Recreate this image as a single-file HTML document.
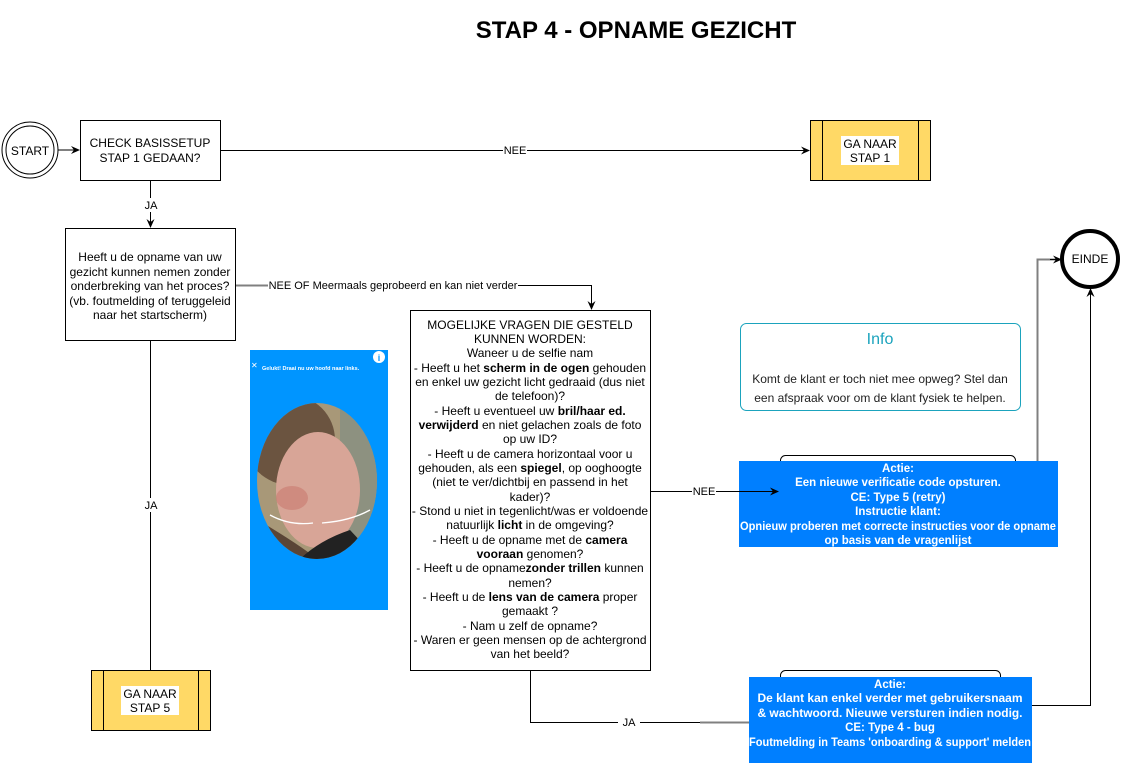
<!DOCTYPE html>
<html><head><meta charset="utf-8"><style>
html,body{margin:0;padding:0;background:#fff;}
svg{display:block;font-family:"Liberation Sans",Arial,sans-serif;}
</style></head><body>
<svg width="1123" height="763" viewBox="0 0 1123 763" xmlns="http://www.w3.org/2000/svg">
<defs>
<marker id="a" markerWidth="10" markerHeight="10" refX="8" refY="5" orient="auto" markerUnits="userSpaceOnUse"><path d="M0,1 L9,5 L0,9 L3,5 z" fill="#000"/></marker>
</defs>
<rect width="1123" height="763" fill="#fff"/>
<text x="636" y="38" text-anchor="middle" font-size="24" font-weight="bold">STAP 4 - OPNAME GEZICHT</text>

<!-- START -->
<circle cx="30" cy="150" r="28" fill="#fff" stroke="#000" stroke-width="1"/>
<circle cx="30" cy="150" r="24" fill="none" stroke="#000" stroke-width="1"/>
<text x="30" y="155" text-anchor="middle" font-size="12">START</text>
<line x1="58" y1="150" x2="79" y2="150" stroke="#000" marker-end="url(#a)"/>

<!-- Check -->
<rect x="80.5" y="120.5" width="140" height="60" fill="#fff" stroke="#000"/>
<text x="150" y="147" text-anchor="middle" font-size="12">CHECK BASISSETUP</text>
<text x="150" y="162" text-anchor="middle" font-size="12">STAP 1 GEDAAN?</text>

<line x1="221" y1="150.5" x2="809" y2="150.5" stroke="#000" marker-end="url(#a)"/>
<rect x="503" y="143" width="24" height="14" fill="#fff"/>
<text x="515" y="154" text-anchor="middle" font-size="11">NEE</text>

<!-- GA NAAR STAP 1 -->
<rect x="810.5" y="120.5" width="120" height="60" fill="#ffd966" stroke="#000"/>
<line x1="822.5" y1="120" x2="822.5" y2="181" stroke="#000"/>
<line x1="918.5" y1="120" x2="918.5" y2="181" stroke="#000"/>
<rect x="841" y="136" width="58" height="29" fill="#fff"/>
<text x="870" y="148" text-anchor="middle" font-size="12">GA NAAR</text>
<text x="870" y="162" text-anchor="middle" font-size="12">STAP 1</text>

<!-- JA down -->
<line x1="150.5" y1="181" x2="150.5" y2="227" stroke="#000" marker-end="url(#a)"/>
<rect x="140" y="198" width="22" height="14" fill="#fff"/>
<text x="151" y="209" text-anchor="middle" font-size="11">JA</text>

<!-- Question -->
<rect x="65.5" y="228.5" width="170" height="112" fill="#fff" stroke="#000"/>
<g font-size="12" text-anchor="middle">
<text x="150" y="261">Heeft u de opname van uw</text>
<text x="150" y="276">gezicht kunnen nemen zonder</text>
<text x="150" y="290">onderbreking van het proces?</text>
<text x="150" y="305">(vb. foutmelding of teruggeleid</text>
<text x="150" y="319">naar het startscherm)</text>
</g>

<!-- NEE OF -->
<polyline points="236,285.5 591.5,285.5 591.5,309" fill="none" stroke="#000" marker-end="url(#a)"/>
<line x1="236" y1="285.5" x2="268" y2="285.5" stroke="#808080" stroke-width="2"/>
<rect x="268" y="278" width="250" height="14" fill="#fff"/>
<text x="393" y="289" text-anchor="middle" font-size="11">NEE OF Meermaals geprobeerd en kan niet verder</text>

<!-- JA to STAP 5 -->
<line x1="150.5" y1="341" x2="150.5" y2="670" stroke="#000"/>
<rect x="140" y="498" width="22" height="14" fill="#fff"/>
<text x="151" y="509" text-anchor="middle" font-size="11">JA</text>

<!-- GA NAAR STAP 5 -->
<rect x="91.5" y="670.5" width="119" height="60" fill="#ffd966" stroke="#000"/>
<line x1="103.5" y1="670" x2="103.5" y2="731" stroke="#000"/>
<line x1="198.5" y1="670" x2="198.5" y2="731" stroke="#000"/>
<rect x="121" y="686" width="58" height="29" fill="#fff"/>
<text x="150" y="698" text-anchor="middle" font-size="12">GA NAAR</text>
<text x="150" y="712" text-anchor="middle" font-size="12">STAP 5</text>

<!-- phone image -->
<rect x="250" y="350" width="138" height="260" fill="#0095ff"/>
<text x="251" y="368" font-size="8" fill="#fff">✕</text>
<text x="262" y="370" font-size="5.5" fill="#fff" font-weight="bold">Gelukt! Draai nu uw hoofd naar links.</text>
<circle cx="379" cy="357" r="6" fill="#fff"/>
<text x="379" y="361" text-anchor="middle" font-size="9" font-weight="bold" fill="#0095ff">i</text>
<clipPath id="ov"><ellipse cx="317" cy="481" rx="60" ry="78"/></clipPath>
<g clip-path="url(#ov)">
<rect x="257" y="403" width="120" height="156" fill="#a89878"/>
<rect x="340" y="403" width="40" height="156" fill="#8d9180"/>
<ellipse cx="290" cy="440" rx="45" ry="45" fill="#6b5440"/>
<ellipse cx="318" cy="490" rx="42" ry="58" fill="#d8a597"/>
<ellipse cx="292" cy="498" rx="16" ry="12" fill="#c97a70" opacity="0.6"/>
<path d="M258,520 Q300,545 317,559 L258,559 z" fill="#5a4536"/>
<path d="M300,559 Q320,540 350,530 L377,559 z" fill="#222"/>
</g>
<path d="M270,515 Q290,526 313,523 M322,523 Q350,521 370,510" stroke="#fff" stroke-width="1.3" fill="none"/>

<!-- Questions box -->
<rect x="410.5" y="310.5" width="240" height="360" fill="#fff" stroke="#000"/>
<g font-size="12" text-anchor="middle">
<text x="530" y="329">MOGELIJKE VRAGEN DIE GESTELD</text>
<text x="530" y="343">KUNNEN WORDEN:</text>
<text x="530" y="357">Waneer u de selfie nam</text>
<text x="530" y="372">- Heeft u het <tspan font-weight="bold">scherm in de ogen</tspan> gehouden</text>
<text x="530" y="386">en enkel uw gezicht licht gedraaid (dus niet</text>
<text x="530" y="400">de telefoon)?</text>
<text x="530" y="415">- Heeft u eventueel uw <tspan font-weight="bold">bril/haar ed.</tspan></text>
<text x="530" y="429"><tspan font-weight="bold">verwijderd</tspan> en niet gelachen zoals de foto</text>
<text x="530" y="443">op uw ID?</text>
<text x="530" y="458">- Heeft u de camera horizontaal voor u</text>
<text x="530" y="472">gehouden, als een <tspan font-weight="bold">spiegel</tspan>, op ooghoogte</text>
<text x="530" y="486">(niet te ver/dichtbij en passend in het</text>
<text x="530" y="501">kader)?</text>
<text x="530" y="515">- Stond u niet in tegenlicht/was er voldoende</text>
<text x="530" y="529">natuurlijk <tspan font-weight="bold">licht</tspan> in de omgeving?</text>
<text x="530" y="544">- Heeft u de opname met de <tspan font-weight="bold">camera</tspan></text>
<text x="530" y="558"><tspan font-weight="bold">vooraan</tspan> genomen?</text>
<text x="530" y="572">- Heeft u de opname<tspan font-weight="bold">zonder trillen</tspan> kunnen</text>
<text x="530" y="587">nemen?</text>
<text x="530" y="601">- Heeft u de <tspan font-weight="bold">lens van de camera</tspan> proper</text>
<text x="530" y="615">gemaakt ?</text>
<text x="530" y="630">- Nam u zelf de opname?</text>
<text x="530" y="644">- Waren er geen mensen op de achtergrond</text>
<text x="530" y="658">van het beeld?</text>
</g>

<!-- JA to action 2 -->
<polyline points="530.5,671 530.5,722.5 749,722.5" fill="none" stroke="#000"/>
<line x1="700" y1="722.5" x2="749" y2="722.5" stroke="#808080" stroke-width="2"/>
<rect x="618" y="715" width="22" height="14" fill="#fff"/>
<text x="629" y="726" text-anchor="middle" font-size="11">JA</text>

<!-- Info -->
<rect x="740.5" y="323.5" width="280" height="87" rx="6" fill="#fff" stroke="#1ba3bd"/>
<text x="880" y="344" text-anchor="middle" font-size="16" fill="#1ba3bd">Info</text>
<text x="880" y="383" text-anchor="middle" font-size="12" fill="#222">Komt de klant er toch niet mee opweg? Stel dan</text>
<text x="880" y="402" text-anchor="middle" font-size="12" fill="#222">een afspraak voor om de klant fysiek te helpen.</text>

<!-- Action 1 -->
<rect x="780.5" y="455.5" width="235" height="20" rx="5" fill="#fff" stroke="#000"/>
<rect x="739" y="461" width="319" height="86" fill="#007fff"/>
<g font-size="11.5" text-anchor="middle" fill="#fff" font-weight="bold">
<text x="898" y="472">Actie:</text>
<text x="898" y="486">Een nieuwe verificatie code opsturen.</text>
<text x="898" y="501">CE: Type 5 (retry)</text>
<text x="898" y="515">Instructie klant:</text>
<text x="898" y="530" textLength="316" lengthAdjust="spacingAndGlyphs">Opnieuw proberen met correcte instructies voor de opname</text>
<text x="898" y="544">op basis van de vragenlijst</text>
</g>

<!-- NEE to action 1 -->
<line x1="651" y1="491.5" x2="778" y2="491.5" stroke="#000" marker-end="url(#a)"/>
<rect x="692" y="484" width="24" height="14" fill="#fff"/>
<text x="704" y="495" text-anchor="middle" font-size="11">NEE</text>

<!-- Action 1 to EINDE -->
<polyline points="1037.5,461 1037.5,259.5 1060,259.5" fill="none" stroke="#808080" stroke-width="2"/>
<line x1="1050" y1="259.5" x2="1061" y2="259.5" stroke="#000" marker-end="url(#a)"/>

<!-- Action 2 -->
<rect x="780.5" y="670.5" width="220" height="20" rx="5" fill="#fff" stroke="#000"/>
<rect x="749" y="677" width="283" height="86" fill="#007fff"/>
<g font-size="11.5" text-anchor="middle" fill="#fff" font-weight="bold">
<text x="890" y="688">Actie:</text>
<text x="890" y="702" textLength="265" lengthAdjust="spacingAndGlyphs">De klant kan enkel verder met gebruikersnaam</text>
<text x="890" y="717" textLength="265" lengthAdjust="spacingAndGlyphs">&amp; wachtwoord. Nieuwe versturen indien nodig.</text>
<text x="890" y="731">CE: Type 4 - bug</text>
<text x="890" y="746" textLength="282" lengthAdjust="spacingAndGlyphs">Foutmelding in Teams 'onboarding &amp; support' melden</text>
</g>
<polyline points="1032,705.5 1090.5,705.5 1090.5,289" fill="none" stroke="#000" marker-end="url(#a)"/>

<!-- EINDE -->
<circle cx="1090" cy="259" r="28" fill="#fff" stroke="#000" stroke-width="4"/>
<text x="1090" y="263" text-anchor="middle" font-size="12">EINDE</text>
</svg>
</body></html>
